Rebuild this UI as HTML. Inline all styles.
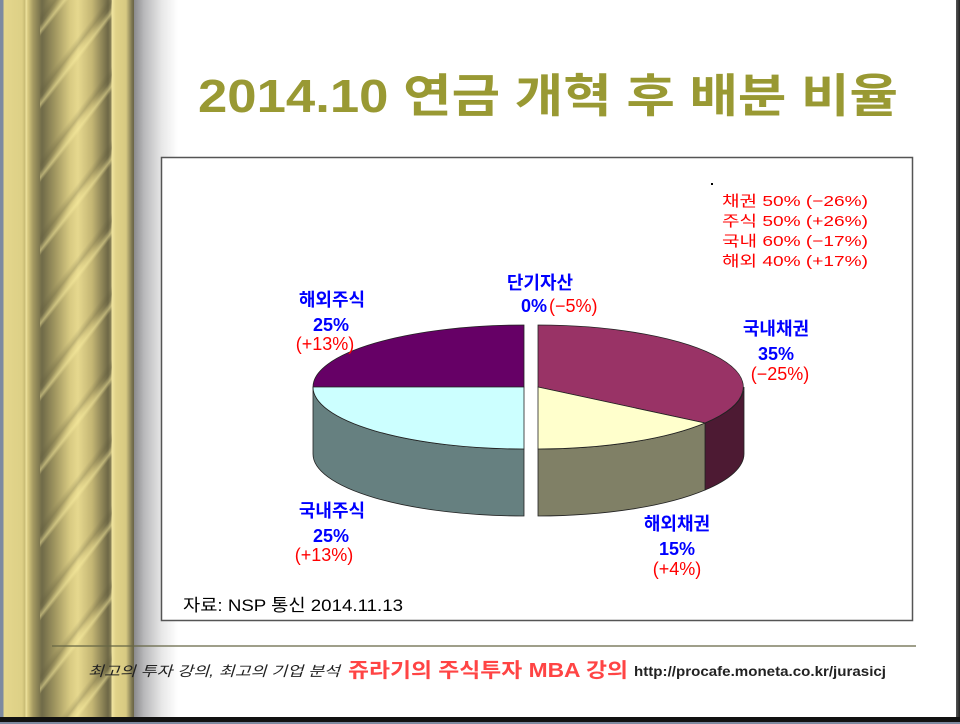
<!DOCTYPE html>
<html><head><meta charset="utf-8"><style>
html,body{margin:0;padding:0;background:#fff}
#wrap{position:relative;width:960px;height:724px;overflow:hidden;background:#fff}
#cur{position:absolute;left:0;top:0;width:134px;height:724px;
background:linear-gradient(90deg,#7d8aa0 0,#7d8aa0 3px,#e4d68c 4px,#ddd086 22px,#c8bb74 25px,#f0e4a0 26px,#d8ca80 28px,#a59a62 33px,#6f6a48 42px,#a09660 55px,#d8ca82 70px,#e6d88e 78px,#c4b674 92px,#6e6846 108px,#8a8258 111px,#f0e4a0 112px,#e0d288 116px,#d8ca82 126px,#7a7450 132px,#6a6444 134px)}
#rope{position:absolute;left:40px;top:0;width:72px;height:724px;
background:repeating-linear-gradient(-52deg,rgba(255,245,170,0) 0,rgba(255,245,170,0) 30px,rgba(250,238,160,.5) 33px,rgba(250,238,160,0) 37px,rgba(90,85,55,.25) 40px,rgba(90,85,55,0) 45px)}
#shadow{position:absolute;left:134px;top:0;width:44px;height:724px;background:linear-gradient(90deg,#8a8a8c 0,#b8b8ba 10px,#e8e8e8 28px,#fff 44px)}
#bot{position:absolute;left:0;top:717px;width:960px;height:7px;background:#111}
#bot2{position:absolute;left:0;top:722px;width:960px;height:2px;background:#7d8aa0}
#rb{position:absolute;left:956px;top:0;width:4px;height:724px;background:linear-gradient(90deg,#555,#222)}
svg{position:absolute;left:0;top:0}
</style></head><body><div id="wrap">
<div id="cur"></div><div id="rope"></div><div id="shadow"></div>
<div id="rb"></div><div id="bot"></div><div id="bot2"></div>
<svg width="960" height="724" xmlns="http://www.w3.org/2000/svg" font-family="Liberation Sans, 'Noto Sans CJK KR', NanumGothic, sans-serif">
<text x="198" y="112" font-size="46" font-weight="bold" fill="#999933" textLength="700" lengthAdjust="spacingAndGlyphs">2014.10 연금 개혁 후 배분 비율</text>
<rect x="161.5" y="157.5" width="751" height="463" fill="#fff" stroke="#555" stroke-width="1.5"/>
<rect x="711" y="183" width="2" height="2" fill="#000"/>
<g fill="#ff0000" font-size="15">
<text x="722" y="206" textLength="146" lengthAdjust="spacingAndGlyphs">채권 50% (−26%)</text>
<text x="722" y="226" textLength="146" lengthAdjust="spacingAndGlyphs">주식 50% (+26%)</text>
<text x="722" y="246" textLength="146" lengthAdjust="spacingAndGlyphs">국내 60% (−17%)</text>
<text x="722" y="266" textLength="146" lengthAdjust="spacingAndGlyphs">해외 40% (+17%)</text>
</g>
<g stroke="#222" stroke-width="0.8">
<path d="M313,387 A211,62 0 0 0 524,449 L524,516 A211,62 0 0 1 313,454 Z" fill="#668080"/>
<path d="M524,387 L524,325 A211,62 0 0 0 313,387 Z" fill="#660066"/>
<path d="M524,387 L313,387 A211,62 0 0 0 524,449 Z" fill="#ccffff"/>
<path d="M744,387 A206,62 0 0 1 705,423 L705,490 A206,62 0 0 0 744,454 Z" fill="#4d1a33"/>
<path d="M705,423 A206,62 0 0 1 538,449 L538,516 A206,62 0 0 0 705,490 Z" fill="#808066"/>
<path d="M538,387 L538,325 A206,62 0 0 1 705,423 Z" fill="#993366"/>
<path d="M538,387 L705,423 A206,62 0 0 1 538,449 Z" fill="#ffffcc"/>
</g>
<g font-size="18" font-weight="bold" text-anchor="middle">
<text x="540" y="289" fill="#0000ff">단기자산</text>
<text x="547" y="312" fill="#0000ff" text-anchor="end">0%</text>
<text x="549" y="312" fill="#ff0000" font-weight="normal" text-anchor="start">(−5%)</text>
<text x="332" y="306" fill="#0000ff">해외주식</text>
<text x="331" y="331" fill="#0000ff">25%</text>
<text x="325" y="350" fill="#ff0000" font-weight="normal">(+13%)</text>
<text x="776" y="335" fill="#0000ff">국내채권</text>
<text x="776" y="360" fill="#0000ff">35%</text>
<text x="780" y="380" fill="#ff0000" font-weight="normal">(−25%)</text>
<text x="332" y="517" fill="#0000ff">국내주식</text>
<text x="331" y="542" fill="#0000ff">25%</text>
<text x="324" y="561" fill="#ff0000" font-weight="normal">(+13%)</text>
<text x="677" y="530" fill="#0000ff">해외채권</text>
<text x="677" y="555" fill="#0000ff">15%</text>
<text x="677" y="575" fill="#ff0000" font-weight="normal">(+4%)</text>
</g>
<text x="183" y="611" font-size="17" fill="#000" textLength="220" lengthAdjust="spacingAndGlyphs">자료: NSP 통신 2014.11.13</text>
<line x1="52" y1="646" x2="916" y2="646" stroke="#666644" stroke-width="1.2"/>
<text x="88" y="676" font-size="14" font-style="italic" fill="#222" textLength="252" lengthAdjust="spacingAndGlyphs">최고의 투자 강의, 최고의 기업 분석</text>
<text x="348" y="677" font-size="20" font-weight="bold" fill="#ff4444" textLength="280" lengthAdjust="spacingAndGlyphs">쥬라기의 주식투자 MBA 강의</text>
<text x="634" y="676" font-size="14" font-weight="bold" fill="#222" textLength="252" lengthAdjust="spacingAndGlyphs">http://procafe.moneta.co.kr/jurasicj</text>
</svg>
</div></body></html>
